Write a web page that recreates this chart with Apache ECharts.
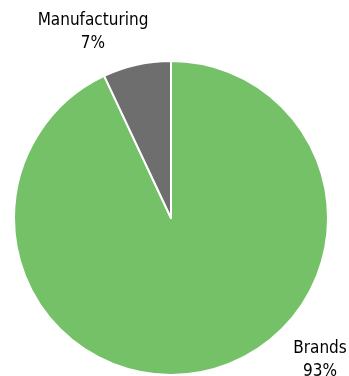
<!DOCTYPE html>
<html>
<head>
<meta charset="utf-8">
<script src="https://cdn.jsdelivr.net/npm/echarts@6/dist/echarts.min.js"></script>
<style>
  html, body { margin: 0; padding: 0; background: #fff; }
  #chart { width: 349px; height: 376px; }
</style>
</head>
<body>
<div id="chart"></div>
<script>
const categories = ['Brands', 'Manufacturing'];
const shares = [93, 7];
const sliceColors = ['#74C167', '#6E6E6E'];

// where each label sits (Excel-style placement)
const labelSpots = [
  { x: 320, y: 360 },
  { x: 93, y: 32 },
];

const chart = echarts.init(document.getElementById('chart'));

const data = categories.map((name, i) => ({
  name: name,
  value: shares[i],
  itemStyle: { color: sliceColors[i] },
}));

chart.setOption({
  animation: false,
  series: [
    {
      type: 'pie',
      center: [171, 218],
      radius: 157,
      startAngle: 90,
      clockwise: true,
      data: data,
      itemStyle: { borderColor: '#fff', borderWidth: 2 },
      label: {
        show: true,
        position: 'outside',
        formatter: (p) => `${p.name}\n${p.value}%`,
        fontFamily: '"DejaVu Sans Condensed", "Liberation Sans Narrow", sans-serif',
        fontSize: 17,
        lineHeight: 23,
        color: '#000',
        align: 'center',
        overflow: 'none',
        width: 200,
      },
      labelLine: { show: false },
      labelLayout: (params) => ({
        x: labelSpots[params.dataIndex].x,
        y: labelSpots[params.dataIndex].y,
        align: 'center',
        verticalAlign: 'middle',
      }),
    },
  ],
});
</script>
</body>
</html>
